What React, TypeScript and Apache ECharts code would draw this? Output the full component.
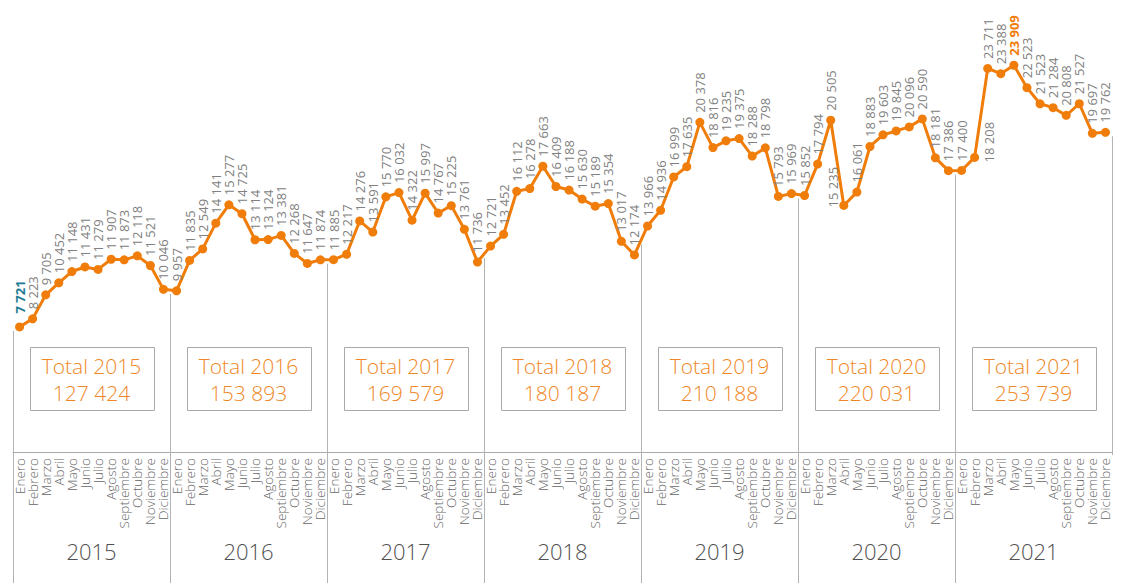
import React, { useEffect, useRef } from "react";
import * as echarts from "echarts";

const months = ["Enero", "Febrero", "Marzo", "Abril", "Mayo", "Junio", "Julio", "Agosto", "Septiembre", "Octubre", "Noviembre", "Diciembre"];
const years = ["2015", "2016", "2017", "2018", "2019", "2020", "2021"];

const v2015 = [7721, 8223, 9705, 10452, 11148, 11431, 11279, 11907, 11873, 12118, 11521, 10046];
const v2016 = [9957, 11835, 12549, 14141, 15277, 14725, 13114, 13124, 13381, 12268, 11647, 11874];
const v2017 = [11885, 12217, 14276, 13591, 15770, 16032, 14322, 15997, 14767, 15225, 13761, 11736];
const v2018 = [12721, 13452, 16112, 16278, 17663, 16409, 16188, 15630, 15189, 15354, 13017, 12174];
const v2019 = [13966, 14936, 16999, 17635, 20378, 18816, 19235, 19375, 18288, 18798, 15793, 15969];
const v2020 = [15852, 17794, 20505, 15235, 16061, 18883, 19603, 19845, 20096, 20590, 18181, 17386];
const v2021 = [17400, 18208, 23711, 23388, 23909, 22523, 21523, 21284, 20808, 21527, 19697, 19762];

const totals = [127424, 153893, 169579, 180187, 210188, 220031, 253739];

const ORANGE = "#F07D0A";
const TOTAL_ORANGE = "#EF8726";
const BLUE = "#1B7A93";
const FONT = "'Open Sans', 'Noto Sans', sans-serif";

const fmt = (n: number) => String(n).replace(/\B(?=(\d{3})+(?!\d))/g, " ");

export default function App() {
  const ref = useRef<HTMLDivElement>(null);

  useEffect(() => {
    if (!ref.current) return;
    const chart = echarts.init(ref.current, undefined, { renderer: "svg" });

    const values = [...v2015, ...v2016, ...v2017, ...v2018, ...v2019, ...v2020, ...v2021];
    const categories = years.flatMap(() => months);

    const lineData = values.map((v, i) => {
      if (i === 0) {
        return { value: v, label: { color: BLUE, fontWeight: "bold", distance: 9 } };
      }
      if (i === 76) {
        return { value: v, label: { color: ORANGE, fontWeight: "bold" } };
      }
      if (i === 63) {
        return { value: v, label: { position: [-6.5, 6.5] } };
      }
      if (i === 73) {
        return { value: v, label: { position: [18.5, 9.5] } };
      }
      return v;
    });

    const sepData: number[][] = [];
    for (let k = 0; k <= years.length; k++) {
      if (k === 0) sepData.push([0, values[0], -1]);
      else if (k === years.length) sepData.push([values.length - 1, values[values.length - 1], 1]);
      else sepData.push([12 * k, (values[12 * k - 1] + values[12 * k]) / 2, -1]);
    }

    const boxData = years.map((_, i) => [i, 0]);

    chart.setOption({
      animation: false,
      grid: { left: 13, right: 11, top: 47.6, bottom: 128, containLabel: false },
      xAxis: [
        {
          type: "category",
          data: categories,
          boundaryGap: true,
          axisLine: { show: true, lineStyle: { color: "#aaaaaa", width: 1 } },
          axisTick: { show: false },
          axisLabel: {
            interval: 0,
            rotate: 90,
            margin: 3,
            fontSize: 13.5,
            color: "#666666",
            fontFamily: FONT,
            fontWeight: 300,
          },
          splitLine: { show: false },
        },
        {
          type: "category",
          data: years,
          position: "bottom",
          boundaryGap: true,
          axisLine: { show: false },
          axisTick: { show: false },
          axisLabel: {
            interval: 0,
            margin: 85,
            fontSize: 22,
            color: "#505050",
            fontFamily: FONT,
            fontWeight: 300,
          },
          splitLine: { show: false },
        },
      ],
      yAxis: {
        type: "value",
        min: -200,
        max: 25000,
        show: false,
        splitLine: { show: false },
      },
      series: [
        {
          type: "custom",
          xAxisIndex: 0,
          z: 1,
          silent: true,
          encode: { x: 0, y: 1 },
          data: sepData,
          renderItem: (params: any, api: any) => {
            const idx = api.value(0);
            const v = api.value(1);
            const side = api.value(2);
            const p = api.coord([idx, v]);
            const band = api.size([1, 0])[0];
            const x = Math.round(p[0] + (side * band) / 2) + 0.5;
            const bottom = api.coord([idx, -200])[1];
            const y2 = side > 0 ? bottom : 583;
            return {
              type: "line",
              shape: { x1: x, y1: p[1] + 4, x2: x, y2 },
              style: { stroke: "#b3b3b3", lineWidth: 1 },
            };
          },
        },
        {
          type: "custom",
          xAxisIndex: 1,
          z: 1,
          silent: true,
          encode: { x: 0, y: 1 },
          data: boxData,
          renderItem: (params: any, api: any) => {
            const i = api.value(0);
            const x = api.coord([i, 0])[0];
            return {
              type: "group",
              children: [
                {
                  type: "rect",
                  shape: { x: Math.round(x - 62) + 0.5, y: 347.5, width: 124, height: 63 },
                  style: { fill: "none", stroke: "#a9a9a9", lineWidth: 1 },
                },
                {
                  type: "text",
                  x: x,
                  y: 366,
                  style: {
                    text: "Total " + years[i],
                    fontSize: 21,
                    fontFamily: FONT,
                    fontWeight: 300,
                    fill: TOTAL_ORANGE,
                    align: "center",
                    verticalAlign: "middle",
                  },
                },
                {
                  type: "text",
                  x: x,
                  y: 393,
                  style: {
                    text: fmt(totals[i]),
                    fontSize: 21,
                    fontFamily: FONT,
                    fontWeight: 300,
                    fill: TOTAL_ORANGE,
                    align: "center",
                    verticalAlign: "middle",
                  },
                },
              ],
            };
          },
        },
        {
          type: "line",
          xAxisIndex: 0,
          z: 3,
          data: lineData,
          symbol: "circle",
          symbolSize: 9,
          lineStyle: { color: ORANGE, width: 3 },
          itemStyle: { color: ORANGE },
          label: {
            show: true,
            position: "top",
            distance: 5,
            rotate: 90,
            align: "left",
            verticalAlign: "middle",
            fontSize: 13,
            fontFamily: FONT,
            fontWeight: 400,
            color: "#808080",
            formatter: (p: any) => fmt(typeof p.value === "number" ? p.value : Number(p.value)),
          },
        },
      ],
    });

    return () => chart.dispose();
  }, []);

  return (
    <div
      ref={ref}
      style={{ position: "absolute", left: 0, top: 0, width: 1123, height: 583, background: "#ffffff" }}
    />
  );
}
